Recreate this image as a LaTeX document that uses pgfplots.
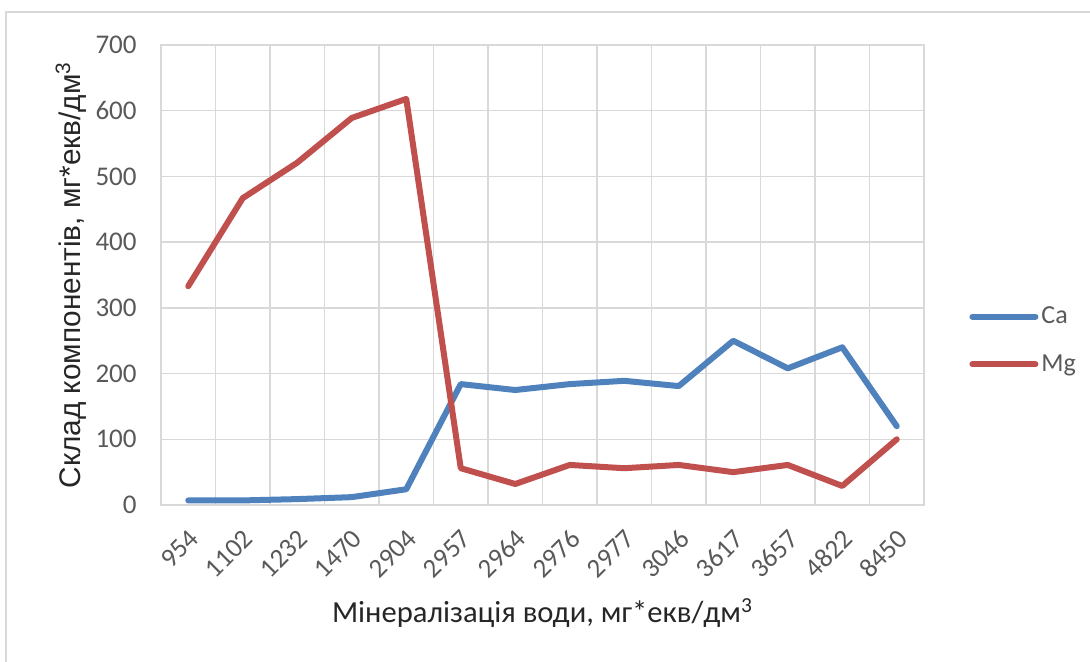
\documentclass[border=0pt]{standalone}
\usepackage{fontspec}
\setmainfont{Carlito}
\newfontfamily\arialf{Liberation Sans}
\usepackage{pgfplots}
\pgfplotsset{compat=1.18}
\definecolor{gridc}{HTML}{D9D9D9}
\definecolor{tickc}{HTML}{595959}
\definecolor{cablue}{HTML}{4F81BD}
\definecolor{mgred}{HTML}{C0504D}
\begin{document}
\begin{tikzpicture}
\path[use as bounding box] (0pt,0pt) rectangle (545pt,-330.5pt);
\draw[gridc, line width=1pt] (3pt,-340pt) -- (3pt,-6pt) -- (560pt,-6pt);
\begin{axis}[
  scale only axis,
  width=381.5pt, height=230pt,
  at={(80.5pt,-252.5pt)}, anchor=south west,
  xmin=-0.5, xmax=13.5, ymin=0, ymax=700,
  xtick={0,...,13},
  xticklabels={954,1102,1232,1470,2904,2957,2964,2976,2977,3046,3617,3657,4822,8450},
  minor xtick={-0.5,0.5,...,13.5},
  ytick={0,100,...,700},
  xminorgrids=true, ymajorgrids=true, xmajorgrids=false,
  grid style={gridc, line width=0.75pt},
  minor grid style={gridc, line width=0.75pt},
  major tick length=0pt, minor tick length=0pt,
  axis line style={gridc, line width=0.75pt},
  /pgf/number format/assume math mode=true,
  tick label style={font=\fontsize{13.5}{16}\selectfont, text=tickc},
  yticklabel style={anchor=east, inner sep=0pt, xshift=-12pt},
  xticklabel style={xshift=3pt, yshift=-14.5pt, rotate=45, anchor=east, inner sep=0pt},
  xlabel={Мінералізація води, мг*екв/дм\textsuperscript{3}},
  ylabel={\arialf Склад компонентів, мг*екв/дм\textsuperscript{3}},
  every axis x label/.style={at={(axis description cs:0.5,0)}, anchor=center, yshift=-54pt, font=\fontsize{15.3}{18}\selectfont, text=black!85},
  every axis y label/.style={at={(axis description cs:-0.118,0.5)}, anchor=center, rotate=90, font=\fontsize{14.9}{17}\selectfont, text=black!85},
  legend style={at={(1.059,0.3576)}, anchor=west, draw=none, fill=none, inner sep=0pt,
    font=\fontsize{13}{15}\selectfont, text=tickc, row sep=11pt, nodes={inner sep=1.5pt}},
  legend cell align=left,
  legend image code/.code={\draw[#1] (0pt,0pt) -- (31.5pt,0pt);},
  every axis plot/.append style={line width=3pt, line join=round, line cap=round},
]
\addplot[cablue] coordinates {(0,7) (1,7) (2,9) (3,12) (4,24) (5,184) (6,175) (7,184) (8,189) (9,181) (10,250) (11,208) (12,240) (13,120)};
\addlegendentry{Ca}
\addplot[mgred] coordinates {(0,333) (1,467) (2,521) (3,589) (4,618) (5,56) (6,32) (7,61) (8,56) (9,61) (10,50) (11,61) (12,29) (13,100)};
\addlegendentry{Mg}
\end{axis}
\end{tikzpicture}
\end{document}
